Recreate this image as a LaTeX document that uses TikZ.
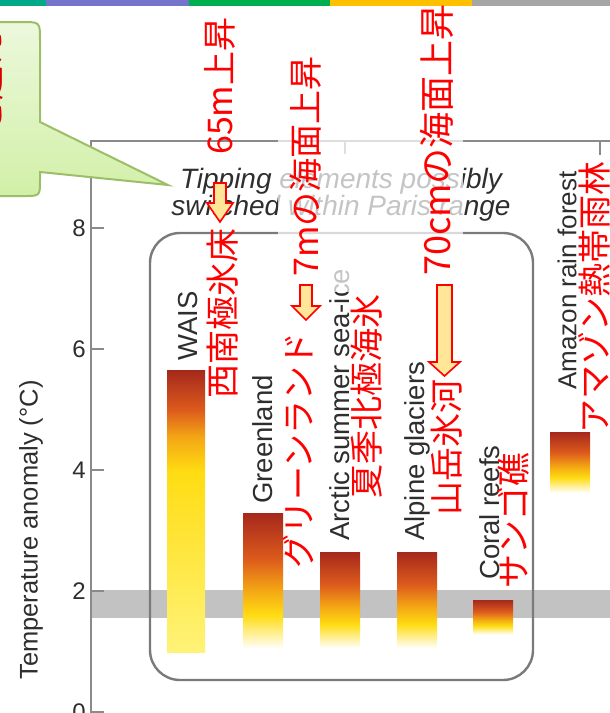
\documentclass[tikz,border=0pt]{standalone}
\usepackage{fontspec}
\setmainfont{Liberation Sans}
\newfontfamily\jp{Noto Sans CJK JP}
\newcommand\setfs[1]{\fontsize{#1}{#1}\selectfont}
\definecolor{cbA}{HTML}{00A987}
\definecolor{cbB}{HTML}{7474CC}
\definecolor{cbC}{HTML}{00AF50}
\definecolor{cbD}{HTML}{FFC000}
\definecolor{cbE}{HTML}{A6A6A6}
\definecolor{axgray}{HTML}{8A8A8A}
\definecolor{framegray}{HTML}{7A7A7A}
\definecolor{bandgray}{HTML}{C2C2C2}
\definecolor{labgray}{HTML}{2E2E2E}
\definecolor{barR}{HTML}{A5281C}
\definecolor{barO}{HTML}{DC5A1C}
\definecolor{barYO}{HTML}{F4A814}
\definecolor{barY}{HTML}{FFDC12}
\definecolor{barW}{HTML}{FFFDF2}
\definecolor{waisB}{HTML}{FFF378}
\definecolor{arrowfill}{HTML}{FFE699}
\definecolor{bubtop}{HTML}{ECF8DC}
\definecolor{bubbot}{HTML}{D2F0A8}
\definecolor{bubline}{HTML}{9DBE68}
\pgfdeclareverticalshading{barfade}{100bp}{color(0bp)=(barW); color(25bp)=(barW); color(37bp)=(barY); color(46bp)=(barYO); color(58bp)=(barO); color(75bp)=(barR); color(100bp)=(barR)}
\pgfdeclareverticalshading{barwais}{100bp}{color(0bp)=(waisB); color(25bp)=(waisB); color(57bp)=(barY); color(63bp)=(barYO); color(68bp)=(barO); color(75bp)=(barR); color(100bp)=(barR)}
\begin{document}
\begin{tikzpicture}[x=1pt,y=-1pt,
  axline/.style={draw=axgray, line width=2.4pt},
  axtick/.style={draw=axgray, line width=1.6pt},
  ticklab/.style={font=\setfs{24}, text=labgray, inner sep=0, anchor=east},
  catlab/.style={font=\setfs{27.5}, text=labgray, inner sep=0, rotate=90, anchor=west},
  jlab/.style={font=\jp\setfs{34}, text=red, inner sep=0, rotate=90, anchor=west},
  titlab/.style={font=\itshape\setfs{28}, text=labgray, inner sep=0, anchor=base},
  yarrow/.style={fill=arrowfill, draw=red, line width=1.6pt, line join=miter},
  callout/.style={draw=bubline, line width=2pt, top color=bubtop, bottom color=bubbot}
]
\useasboundingbox (0,0) rectangle (610,713);
% top colour bar
\fill[cbA] (0,0) rectangle (46,6);
\fill[cbB] (46,0) rectangle (189,6);
\fill[cbC] (189,0) rectangle (330,6);
\fill[cbD] (330,0) rectangle (472,6);
\fill[cbE] (472,0) rectangle (610,6);
% Paris band
\fill[bandgray] (91,590) rectangle (610,618);
% axes
\coordinate (axTL) at (91,141);
\coordinate (axBL) at (91,720);
\coordinate (axTR) at (612,141);
\draw[axline] (axBL) -- (axTL) -- (axTR);
\foreach \v/\yy in {8/228,6/349,4/470,2/591,0/712}{
  \coordinate (t\v) at (91,\yy);
  \coordinate (te\v) at (104,\yy);
  \draw[axtick] (t\v) -- (te\v);
  \node[ticklab] (tl\v) at (86,\yy) {\v};
}
\coordinate (xtA) at (345,141); \coordinate (xtAe) at (345,154);
\coordinate (xtB) at (600,141); \coordinate (xtBe) at (600,155);
\draw[axtick] (xtA) -- (xtAe);
\draw[axtick] (xtB) -- (xtBe);
\node[font=\setfs{25.5}, text=labgray, inner sep=0, rotate=90] (ylab) at (31,530) {Temperature anomaly (°C)};
% bars
\shade[shading=barwais] (167,370) rectangle (205,652);
\shade[shading=barfade] (243,513) rectangle (283,647);
\shade[shading=barfade] (320,552) rectangle (360,647);
\shade[shading=barfade] (397,552) rectangle (437,647);
\shade[shading=barfade] (473,600) rectangle (513,634);
\shade[shading=barfade] (550,432) rectangle (590,492);
% frame
\draw[draw=framegray, line width=2.4pt, rounded corners=30pt] (150,233) rectangle (533,680);
% category labels
\node[catlab] (wais) at (188,361) {WAIS};
\node[catlab] (green) at (263,504) {Greenland};
\node[catlab] (arctic) at (340,541) {Arctic summer sea-ice};
\node[catlab] (alpine) at (417,541) {Alpine glaciers};
\node[catlab] (coral) at (490,580) {Coral reefs};
\node[catlab, font=\setfs{26}] (amazon) at (567,390) {Amazon rain forest};
% title
\node[titlab] (tit1) at (341,188) {Tipping elements possibly};
\node[titlab] (tit2) at (341,215) {switched within Paris range};
% veil
\fill[white, opacity=0.72] (278,128) rectangle (463,292);
% red Japanese labels
\node[jlab] (j65) at (220,155) {65m上昇};
\node[jlab] (j7) at (306,277) {7mの海面上昇};
\node[jlab, font=\jp\setfs{36}] (j70) at (437,276) {70cmの海面上昇};
\node[jlab] (jwais) at (223,399) {西南極氷床};
\node[jlab] (jgreen) at (298,569) {グリーンランド};
\node[jlab] (jarctic) at (367,499) {夏季北極海氷};
\node[jlab] (jalpine) at (447,516) {山岳氷河};
\node[jlab] (jcoral) at (513,589) {サンゴ礁};
\node[jlab] (jamazon) at (594,434) {アマゾン熱帯雨林};
% arrows
\draw[yarrow] (214,183) -- (226,183) -- (226,203) -- (233,203) -- (220,222) -- (207,203) -- (214,203) -- cycle;
\draw[yarrow] (300,285) -- (312,285) -- (312,306) -- (320,306) -- (306,320) -- (292,306) -- (300,306) -- cycle;
\draw[yarrow] (437,285) -- (452,285) -- (452,362) -- (460,362) -- (444.5,376) -- (429,362) -- (437,362) -- cycle;
% callout
\coordinate (cTip) at (168,185);
\draw[callout] (-40,22) -- (22,22) .. controls (40,22) .. (40,40) -- (40,122) -- (cTip) -- (40,172) -- (40,180) .. controls (40,196) .. (24,196) -- (-40,196);
\node[font=\jp\setfs{34}, text=red!85!black, inner sep=0, rotate=90, anchor=west] (cText) at (-12,135) {を超え};
\end{tikzpicture}
\end{document}
